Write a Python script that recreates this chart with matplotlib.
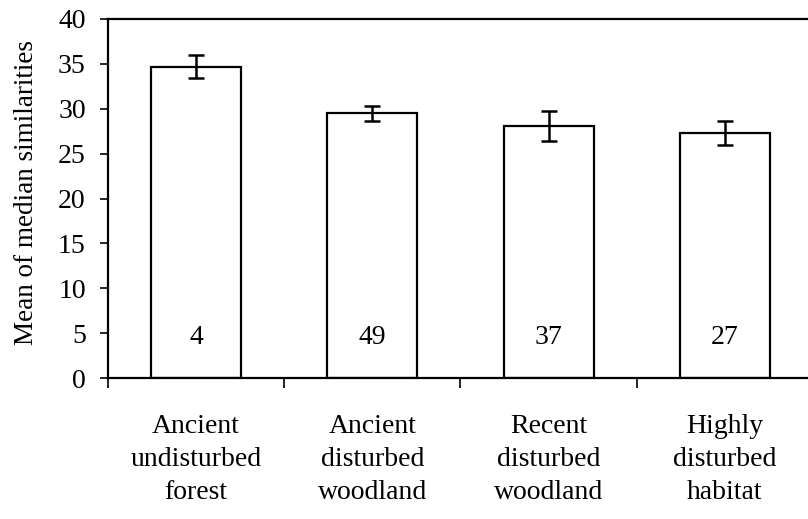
import matplotlib
matplotlib.use("Agg")
import matplotlib.pyplot as plt
import numpy as np

categories = ["Ancient\nundisturbed\nforest", "Ancient\ndisturbed\nwoodland",
              "Recent\ndisturbed\nwoodland", "Highly\ndisturbed\nhabitat"]
means = [34.7, 29.5, 28.1, 27.3]
errors = [1.25, 0.85, 1.7, 1.3]
counts = ["4", "49", "37", "27"]
yticks = [0, 5, 10, 15, 20, 25, 30, 35, 40]

plt.rcParams['font.family'] = ['Liberation Serif', 'DejaVu Serif']
FS = 20

W, H = 808, 519
fig = plt.figure(figsize=(W / 100, H / 100), dpi=100)
ax = fig.add_axes([108 / W, 1 - 378 / H, (813 - 108) / W, (378 - 19) / H])

x = np.arange(len(categories))
ax.bar(x, means, width=0.51, color='white', edgecolor='black', linewidth=1.6, zorder=2)
ax.errorbar(x, means, yerr=errors, fmt='none', ecolor='black', elinewidth=1.8,
            capsize=6, capthick=1.8, zorder=3)

for xi, c in zip(x, counts):
    ax.text(xi, 3.8, c, ha='center', va='baseline', fontsize=FS)

ax.set_xlim(-0.5, len(categories) - 0.5)
ax.set_ylim(0, 40)
ax.set_yticks(yticks)
ax.tick_params(axis='y', labelsize=FS, direction='out', length=6, width=1.2, pad=10)

ax.set_xticks(np.arange(len(categories) + 1) - 0.5)
ax.set_xticklabels([])
ax.tick_params(axis='x', which='major', direction='out', length=7, width=1.2)
ax.set_xticks(x, minor=True)
ax.set_xticklabels(categories, minor=True, fontsize=FS, linespacing=1.42)
ax.tick_params(axis='x', which='minor', length=0, pad=26)

ax.set_ylabel("Mean of median similarities", fontsize=19.5, labelpad=14, y=0.517)

for side in ['left', 'top', 'bottom']:
    ax.spines[side].set_linewidth(1.6)
ax.spines['right'].set_visible(False)

fig.savefig("out.png", dpi=100)
